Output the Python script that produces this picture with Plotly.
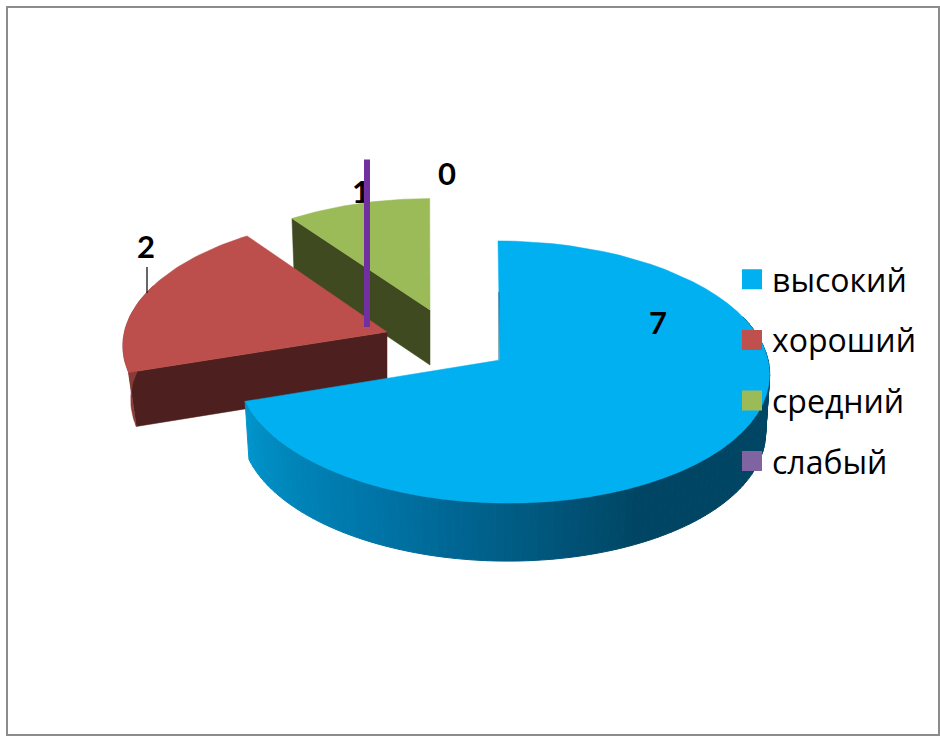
import math
import plotly.graph_objects as go

# --- data ---
categories = ["высокий", "хороший", "средний", "слабый"]
values = [7, 2, 1, 0]
value_labels = ["7", "2", "1", "0"]

# --- style ---
top_colors = ["#00b0f0", "#bc4f4b", "#9bbb59", "#7030a0"]
legend_colors = ["#00b0f0", "#c0504d", "#9bbb59", "#8064a2"]
cut_colors = [None, "#4d1f1e", "#3f4a21", None]
label_pos = [(658, 326), (146, 250), (361, 195), (447, 177)]

W, H = 940, 736
CX, CY, RX, RY, PERSP = 500, 360, 268, 130, 0.0916
explode = [(0, 0), (-113, -28), (-70, -50), (-133, -88)]
scale = [1.0, 0.98, 0.93, 0.94]
rx_scale = [0.989, 1.0, 1.0, 1.0]
arc_shift = [3, 0, -4, 0]
shear = [5, -5, -4, 0]
depth = [58, 54, 55, 55]
ring = [0.985, 0.97, 0.985, 0.985]

total = sum(values)
bounds = []
acc = 0
for v in values:
    bounds.append((acc / total * 360, (acc + v) / total * 360))
    acc += v


def pt(i, deg, r=1.0, bottom=False):
    t = math.radians(deg)
    u, v = math.sin(t) * r * scale[i], math.cos(t) * r * scale[i]
    w = 1 + PERSP * v
    ax, ay = CX + explode[i][0], CY + explode[i][1]
    dx = RX * rx_scale[i] * u / w - shear[i] * v + arc_shift[i] * r
    dy = -RY * v / w
    if bottom:
        return ax + dx * ring[i], ay + dy + depth[i]
    return ax + dx, ay + dy


def poly(points, color, line=None, width=1):
    xs = [p[0] for p in points] + [points[0][0]]
    ys = [p[1] for p in points] + [points[0][1]]
    return go.Scatter(x=xs, y=ys, mode="lines", fill="toself", fillcolor=color,
                      line=dict(color=line or color, width=width),
                      showlegend=False, hoverinfo="skip")


def arc(i, a, b, n=60, bottom=False):
    return [pt(i, a + (b - a) * k / n, 1.0, bottom) for k in range(n + 1)]


def top_face(i):
    a, b = bounds[i]
    return poly([pt(i, 0, 0.0)] + arc(i, a, b), top_colors[i], width=0.5)


def cut_face(i, deg):
    return poly([pt(i, deg, 0.0), pt(i, deg, 1.0), pt(i, deg, 1.0, True), pt(i, deg, 0.0, True)],
                cut_colors[i], width=0.5)


def text_trace(i):
    return go.Scatter(x=[label_pos[i][0]], y=[label_pos[i][1]], mode="text",
                      text=[value_labels[i]],
                      textfont=dict(family="Lato", size=31, color="#000000", weight="bold"),
                      showlegend=False, hoverinfo="skip")


def blue_shade(deg):
    stops = [(153, (0, 70, 100)), (205, (0, 115, 165)), (252, (0, 150, 205))]
    if deg <= stops[0][0]:
        return "rgb(0,70,100)"
    for (d0, c0), (d1, c1) in zip(stops, stops[1:]):
        if deg <= d1:
            f = (deg - d0) / (d1 - d0)
            return "rgb(%d,%d,%d)" % tuple(c0[k] + (c1[k] - c0[k]) * f for k in range(3))
    return "rgb(0,150,205)"


traces = []
traces.append(text_trace(2))

# green slice
traces.append(cut_face(2, bounds[2][0]))
traces.append(top_face(2))

# red slice
traces.append(cut_face(1, bounds[1][0]))
red_wall = arc(1, bounds[1][0], bounds[1][0] + 40, 30)
red_wall_bottom = arc(1, bounds[1][0], bounds[1][0] + 40, 30, True)
traces.append(poly(red_wall + red_wall_bottom[::-1], "#8b3a37", width=0.5))
traces.append(top_face(1))

# purple zero slice, seen edge-on
traces.append(go.Scatter(x=[pt(3, 360, 1.0)[0], pt(3, 360, 0.0, True)[0]],
                         y=[pt(3, 360, 1.0)[1], pt(3, 360, 0.0, True)[1]],
                         mode="lines", line=dict(color=top_colors[3], width=6),
                         showlegend=False, hoverinfo="skip"))

# blue slice: shaded wall, inner edge, top
steps = 110
lo, hi = 70.0, bounds[0][1]
for k in range(steps):
    a = lo + (hi - lo) * k / steps
    b = lo + (hi - lo) * (k + 1) / steps
    traces.append(poly([pt(0, a), pt(0, b), pt(0, b, 1.0, True), pt(0, a, 1.0, True)],
                       blue_shade((a + b) / 2), width=1))
traces.append(top_face(0))
traces.append(go.Scatter(x=[pt(0, 0, 0.55)[0], pt(0, 0, 0.0)[0] - 1],
                         y=[pt(0, 0, 0.55)[1], pt(0, 0, 0.0)[1]],
                         mode="lines", line=dict(color="#1f6d8c", width=1),
                         showlegend=False, hoverinfo="skip"))

# labels and leader line
traces.append(text_trace(0))
traces.append(text_trace(1))
traces.append(text_trace(3))
traces.append(go.Scatter(x=[147, 147], y=[267, 293], mode="lines",
                         line=dict(color="#000000", width=1.2),
                         showlegend=False, hoverinfo="skip"))

# legend entries
for name, color in zip(categories, legend_colors):
    traces.append(go.Scatter(x=[None], y=[None], mode="markers", name=name, legendgroup=name,
                             marker=dict(symbol="square", size=16, color=color,
                                         line=dict(color=color, width=4))))

fig = go.Figure(traces)
fig.update_layout(
    width=W, height=H, margin=dict(l=0, r=0, t=0, b=0),
    paper_bgcolor="#ffffff", plot_bgcolor="#ffffff",
    xaxis=dict(visible=False, range=[0, W], fixedrange=True),
    yaxis=dict(visible=False, range=[H, 0], fixedrange=True),
    hovermode=False,
    legend=dict(x=732 / W, y=1 - 252 / H, xanchor="left", yanchor="top",
                bgcolor="rgba(0,0,0,0)", tracegroupgap=16, traceorder="grouped",
                font=dict(family="Open Sans", size=32, color="#000000")),
    shapes=[dict(type="rect", xref="paper", yref="paper",
                 x0=7 / W, x1=939 / W, y0=1 - 735 / H, y1=1 - 7 / H,
                 line=dict(color="#8c8c8c", width=2), layer="above")],
)
fig.write_html("out.html", config=dict(displayModeBar=False),
               post_script="document.body.style.margin='0';")
